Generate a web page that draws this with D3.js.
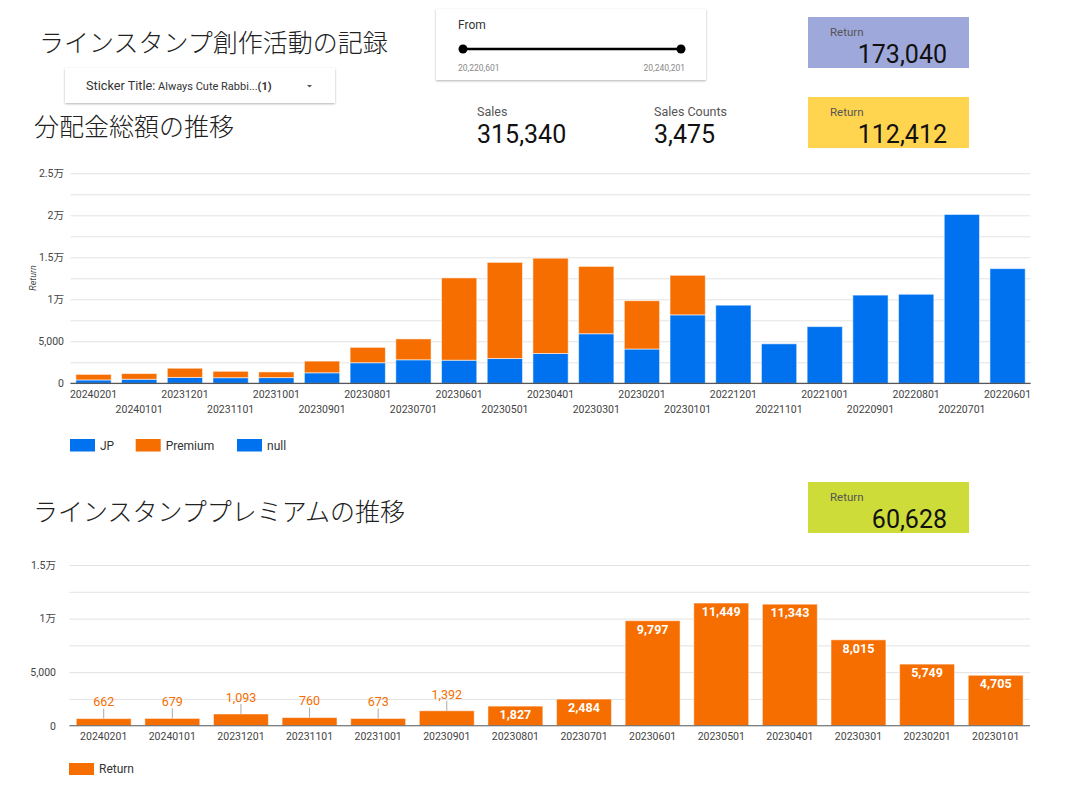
<!DOCTYPE html>
<html>
<head>
<meta charset="utf-8">
<script src="https://cdn.jsdelivr.net/npm/d3@7"></script>
<style>
  body { margin: 0; background: #fff; }
  text { font-family: Roboto, "Noto Sans CJK JP", sans-serif; }
  .jp-title { font-family: "Noto Sans CJK JP", sans-serif; font-weight: 300; }
</style>
</head>
<body>
<script>
// ---- data ----
const months = ['20240201', '20240101', '20231201', '20231101', '20231001', '20230901', '20230801',
  '20230701', '20230601', '20230501', '20230401', '20230301', '20230201', '20230101',
  '20221201', '20221101', '20221001', '20220901', '20220801', '20220701', '20220601'];
const jpReturn = [400, 480, 700, 670, 680, 1250, 2450, 2800, 2750, 2950, 3550, 5900, 4082, 8150,
  9300, 4700, 6750, 10500, 10600, 20100, 13650];
const premiumReturn = [662, 679, 1093, 760, 673, 1392, 1827, 2484, 9797, 11449, 11343, 8015, 5749, 4705,
  0, 0, 0, 0, 0, 0, 0];
const nullReturn = months.map(() => 0);
const seriesNames = ['JP', 'Premium', 'null'];
const seriesColors = ['#0072f0', '#f66d00', '#0072f0'];

const premiumMonths = months.slice(0, 14);
const premiumValues = premiumReturn.slice(0, 14);

const topTicks = [0, 5000, 10000, 15000, 20000, 25000];
const bottomTicks = [0, 5000, 10000, 15000];

const scorecards = [
  {label: 'Return', value: 173040, fill: '#9fa8da', y: 17},
  {label: 'Return', value: 112412, fill: '#ffd54f', y: 97},
  {label: 'Return', value: 60628, fill: '#cddc39', y: 482}
];
const kpis = [
  {label: 'Sales', value: 315340, x: 477},
  {label: 'Sales Counts', value: 3475, x: 654}
];
const sliderRange = [20220601, 20240201];

// ---- helpers ----
const fmt = d3.format(',');
function manFormat(v) {
  if (v === 0) return '0';
  if (v < 10000) return fmt(v);
  return (v / 10000) + '万';
}

const width = 1068;
const height = 786;

const svg = d3.select('body')
  .append('svg')
  .attr('width', width)
  .attr('height', height);

const defs = svg.append('defs');
const shadow = defs.append('filter')
  .attr('id', 'shadow')
  .attr('x', '-10%').attr('y', '-20%')
  .attr('width', '120%').attr('height', '160%');
shadow.append('feDropShadow')
  .attr('dx', 0).attr('dy', 1)
  .attr('stdDeviation', 1.2)
  .attr('flood-color', '#000')
  .attr('flood-opacity', 0.3);

// ---- header ----
svg.append('text')
  .attr('class', 'jp-title')
  .attr('x', 39).attr('y', 52)
  .attr('font-size', 25)
  .attr('fill', '#212121')
  .text('ラインスタンプ創作活動の記録');

// dropdown
const dd = svg.append('g');
dd.append('rect')
  .attr('x', 65).attr('y', 68).attr('width', 270).attr('height', 35)
  .attr('fill', '#fff')
  .attr('filter', 'url(#shadow)');
const ddText = dd.append('text')
  .attr('x', 86).attr('y', 90)
  .attr('fill', '#333');
ddText.append('tspan').attr('font-size', 12.7).text('Sticker Title:');
ddText.append('tspan').attr('font-size', 11).text(' Always Cute Rabbi...');
ddText.append('tspan').attr('font-size', 11).attr('font-weight', 'bold').text('(1)');
dd.append('path')
  .attr('d', 'M307,85 l5,0 l-2.5,2.5 z')
  .attr('fill', '#555');

// slider
const sl = svg.append('g');
sl.append('rect')
  .attr('x', 436).attr('y', 9).attr('width', 270).attr('height', 71)
  .attr('fill', '#fff')
  .attr('filter', 'url(#shadow)');
sl.append('text')
  .attr('x', 458).attr('y', 29)
  .attr('font-size', 12).attr('fill', '#333')
  .text('From');
const sx = d3.scaleLinear().domain(sliderRange).range([463, 681]);
sl.append('line')
  .attr('x1', sx(sliderRange[0])).attr('x2', sx(sliderRange[1]))
  .attr('y1', 49).attr('y2', 49)
  .attr('stroke', '#000').attr('stroke-width', 2.5);
sl.selectAll('circle')
  .data(sliderRange)
  .join('circle')
  .attr('cx', d => sx(d)).attr('cy', 49).attr('r', 4.5)
  .attr('fill', '#000');
sl.selectAll('text.rng')
  .data(sliderRange)
  .join('text')
  .attr('class', 'rng')
  .attr('x', (d, i) => i === 0 ? 458 : 685)
  .attr('y', 71)
  .attr('text-anchor', (d, i) => i === 0 ? 'start' : 'end')
  .attr('font-size', 8.5).attr('fill', '#888')
  .text(d => fmt(d));

// scorecards
const sc = svg.selectAll('g.score')
  .data(scorecards)
  .join('g')
  .attr('class', 'score')
  .attr('transform', d => `translate(808,${d.y})`);
sc.append('rect')
  .attr('width', 161).attr('height', 51)
  .attr('fill', d => d.fill);
sc.append('text')
  .attr('x', 22).attr('y', 19)
  .attr('font-size', 11.5).attr('fill', '#555')
  .text(d => d.label);
sc.append('text')
  .attr('x', 139).attr('y', 46)
  .attr('text-anchor', 'end')
  .attr('font-size', 25).attr('fill', '#111')
  .text(d => fmt(d.value));

// kpis
const kp = svg.selectAll('g.kpi')
  .data(kpis)
  .join('g')
  .attr('class', 'kpi')
  .attr('transform', d => `translate(${d.x},0)`);
kp.append('text')
  .attr('y', 116)
  .attr('font-size', 12.5).attr('fill', '#555')
  .text(d => d.label);
kp.append('text')
  .attr('y', 143)
  .attr('font-size', 25).attr('fill', '#111')
  .text(d => fmt(d.value));

// ---- top chart: stacked bars ----
svg.append('text')
  .attr('class', 'jp-title')
  .attr('x', 34).attr('y', 136)
  .attr('font-size', 25)
  .attr('fill', '#212121')
  .text('分配金総額の推移');

const x1 = d3.scaleBand()
  .domain(months)
  .range([70.4, 1030.7])
  .paddingInner(0.228)
  .paddingOuter(0.12);
const y1 = d3.scaleLinear().domain([0, 25000]).range([383.3, 173.3]);

const topChart = svg.append('g');
topChart.append('g')
  .attr('transform', 'translate(70.4,0)')
  .call(d3.axisLeft(y1).tickValues(d3.range(0, 25001, 2500)).tickSize(-960).tickFormat(''))
  .call(g => g.select('.domain').remove())
  .call(g => g.selectAll('line').attr('stroke', '#e3e3e3'));

topChart.append('g')
  .attr('transform', 'translate(67,0)')
  .call(d3.axisLeft(y1).tickValues(topTicks).tickSize(0).tickFormat(manFormat))
  .call(g => g.select('.domain').remove())
  .call(g => g.selectAll('text')
    .attr('font-size', 10.5).attr('fill', '#444')
    .attr('font-family', 'Roboto, "Noto Sans CJK JP", sans-serif'));

const stackRows = months.map((m, i) => ({month: m, JP: jpReturn[i], Premium: premiumReturn[i], null: nullReturn[i]}));
const stacked = d3.stack().keys(seriesNames)(stackRows);

topChart.selectAll('g.series')
  .data(stacked)
  .join('g')
  .attr('class', 'series')
  .attr('fill', (d, i) => seriesColors[i])
  .selectAll('rect')
  .data(d => d.filter(p => p[1] > p[0]))
  .join('rect')
  .attr('x', d => x1(d.data.month))
  .attr('width', x1.bandwidth())
  .attr('y', d => y1(d[1]))
  .attr('height', d => y1(d[0]) - y1(d[1]))
  .attr('stroke', 'rgba(255,255,255,0.55)')
  .attr('stroke-width', 1);

topChart.append('g')
  .attr('transform', 'translate(0,383.3)')
  .call(d3.axisBottom(x1).tickSize(0).tickPadding(7))
  .call(g => g.select('.domain').attr('d', 'M70.4,0H1030.7').attr('stroke', '#333'))
  .call(g => g.selectAll('text')
    .attr('font-size', 10.5).attr('fill', '#444')
    .attr('font-family', 'Roboto, sans-serif')
    .attr('dy', (d, i) => i % 2 === 0 ? '0.71em' : '2.15em'));

topChart.append('text')
  .attr('transform', 'translate(36,278) rotate(-90)')
  .attr('text-anchor', 'middle')
  .attr('font-size', 9).attr('font-style', 'italic').attr('fill', '#444')
  .text('Return');

// legend
const legendX = [70, 135.7, 237];
const lg = topChart.selectAll('g.legend')
  .data(seriesNames)
  .join('g')
  .attr('class', 'legend')
  .attr('transform', (d, i) => `translate(${legendX[i]},439)`);
lg.append('rect')
  .attr('width', 25).attr('height', 12.5)
  .attr('fill', (d, i) => seriesColors[i]);
lg.append('text')
  .attr('x', 30).attr('y', 10.5)
  .attr('font-size', 12).attr('fill', '#333')
  .text(d => d);

// ---- bottom chart: premium ----
svg.append('text')
  .attr('class', 'jp-title')
  .attr('x', 33).attr('y', 521)
  .attr('font-size', 25)
  .attr('fill', '#212121')
  .text('ラインスタンププレミアムの推移');

const x2 = d3.scaleBand()
  .domain(premiumMonths)
  .range([69.4, 1030])
  .paddingInner(0.2)
  .paddingOuter(0.1);
const y2 = d3.scaleLinear().domain([0, 15000]).range([725.7, 565]);

const bottomChart = svg.append('g');
bottomChart.append('g')
  .attr('transform', 'translate(69.4,0)')
  .call(d3.axisLeft(y2).tickValues(d3.range(0, 15001, 2500)).tickSize(-960.6).tickFormat(''))
  .call(g => g.select('.domain').remove())
  .call(g => g.selectAll('line').attr('stroke', '#e3e3e3'));

bottomChart.append('g')
  .attr('transform', 'translate(59,0)')
  .call(d3.axisLeft(y2).tickValues(bottomTicks).tickSize(0).tickFormat(manFormat))
  .call(g => g.select('.domain').remove())
  .call(g => g.selectAll('text')
    .attr('font-size', 10.5).attr('fill', '#444')
    .attr('font-family', 'Roboto, "Noto Sans CJK JP", sans-serif'));

const premRows = premiumMonths.map((m, i) => ({month: m, value: premiumValues[i]}));

bottomChart.selectAll('rect.bar')
  .data(premRows)
  .join('rect')
  .attr('class', 'bar')
  .attr('x', d => x2(d.month))
  .attr('width', x2.bandwidth())
  .attr('y', d => y2(d.value))
  .attr('height', d => y2(0) - y2(d.value))
  .attr('fill', '#f66d00')
  .attr('stroke', 'rgba(255,255,255,0.5)')
  .attr('stroke-width', 1);

const inside = d => y2(0) - y2(d.value) >= 17;

bottomChart.selectAll('line.leader')
  .data(premRows.filter(d => !inside(d)))
  .join('line')
  .attr('class', 'leader')
  .attr('x1', d => x2(d.month) + x2.bandwidth() / 2)
  .attr('x2', d => x2(d.month) + x2.bandwidth() / 2)
  .attr('y1', d => y2(d.value) - 10)
  .attr('y2', d => y2(d.value))
  .attr('stroke', '#aaa');

bottomChart.selectAll('text.val')
  .data(premRows)
  .join('text')
  .attr('class', 'val')
  .attr('x', d => x2(d.month) + x2.bandwidth() / 2)
  .attr('y', d => inside(d) ? y2(d.value) + 8.5 : y2(d.value) - 16.5)
  .attr('dy', '0.35em')
  .attr('text-anchor', 'middle')
  .attr('font-size', 12.5)
  .attr('font-weight', d => inside(d) ? 'bold' : 'normal')
  .attr('fill', d => inside(d) ? '#fff' : '#f66d00')
  .text(d => fmt(d.value));

bottomChart.append('g')
  .attr('transform', 'translate(0,725.7)')
  .call(d3.axisBottom(x2).tickSize(0).tickPadding(7))
  .call(g => g.select('.domain').attr('d', 'M69.4,0H1030').attr('stroke', '#666'))
  .call(g => g.selectAll('text')
    .attr('font-size', 10.5).attr('fill', '#444')
    .attr('font-family', 'Roboto, sans-serif'));

const lg2 = bottomChart.append('g').attr('transform', 'translate(69,763)');
lg2.append('rect').attr('width', 25).attr('height', 12).attr('fill', '#f66d00');
lg2.append('text')
  .attr('x', 30).attr('y', 10)
  .attr('font-size', 12).attr('fill', '#333')
  .text('Return');
</script>
</body>
</html>
